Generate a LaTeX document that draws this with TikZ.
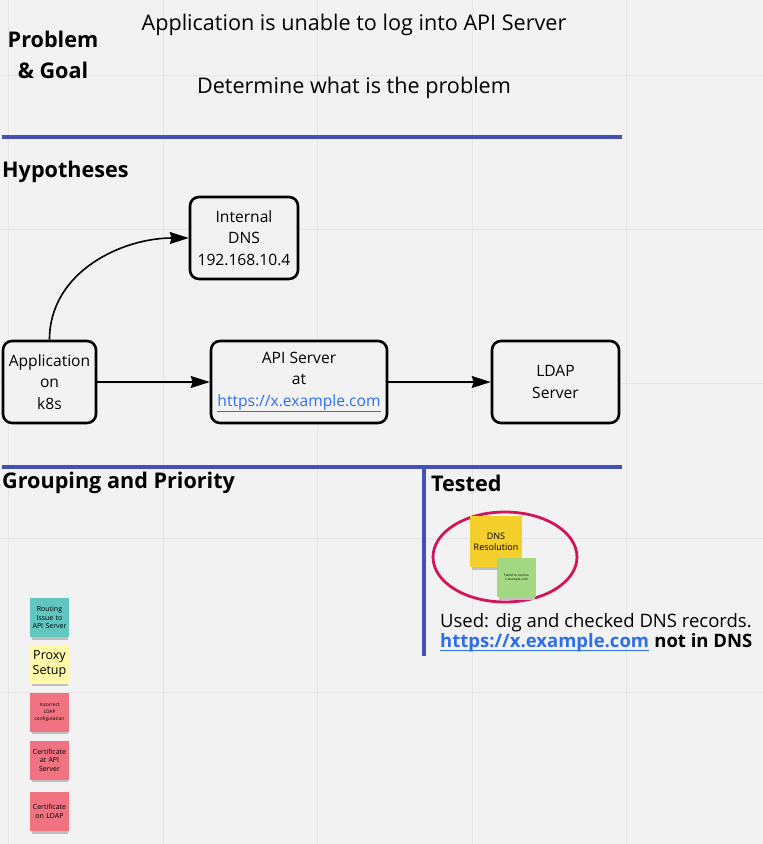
\documentclass[tikz,border=0pt]{standalone}
\usepackage{fontspec}
\setmainfont{Open Sans}
\usetikzlibrary{arrows.meta,shapes.geometric}
\definecolor{bg}{HTML}{F2F2F2}
\definecolor{gridc}{HTML}{E6E6E6}
\definecolor{barblue}{HTML}{4350B8}
\definecolor{linkblue}{HTML}{2F6EEB}
\definecolor{ellc}{HTML}{D4145A}
\definecolor{stYellow}{HTML}{F5D02C}
\definecolor{stGreen}{HTML}{A3D882}
\definecolor{stTeal}{HTML}{62C6C0}
\definecolor{stLight}{HTML}{FFF9AA}
\definecolor{stPink}{HTML}{F17381}
\tikzset{
  box/.style={draw=black,line width=2.6pt,rounded corners=9pt,fill=bg,align=center,font=\fontsize{15.6}{21.5}\selectfont,inner sep=0pt},
  arr/.style={line width=1.6pt,-{Stealth[length=19pt,width=12pt,inset=2pt]}},
  bar/.style={line width=3.5pt,draw=barblue},
  hdr/.style={font=\bfseries\fontsize{21.6}{26}\selectfont,anchor=west,inner sep=0pt},
  sticky/.style={align=center,inner sep=0pt,text width=37pt,minimum width=39pt,minimum height=39pt,font=\fontsize{7}{8.6}\selectfont},
  shadowc/.style={fill=black!25}
}
\begin{document}
\begin{tikzpicture}[x=1pt,y=-1pt]
\fill[bg] (0,0) rectangle (763,844);
\useasboundingbox (0,0) rectangle (763,844);
% grid
\foreach \gx in {8,163,317,472,626} \draw[gridc,line width=0.8pt] (\gx,0) -- (\gx,844);
\foreach \gy in {75,229,383,538,692} \draw[gridc,line width=0.8pt] (0,\gy) -- (763,\gy);
% Problem & Goal
\node[align=center,font=\bfseries\fontsize{21.6}{31}\selectfont,inner sep=0pt] (pg) at (53,55) {Problem\\\& Goal};
\node[font=\fontsize{21.6}{26}\selectfont,inner sep=0pt] (prob) at (354,25) {Application is unable to log into API Server};
\node[font=\fontsize{21.6}{26}\selectfont,inner sep=0pt] (goal) at (354,88) {Determine what is the problem};
\coordinate (b1l) at (2,137); \coordinate (b1r) at (622,137);
\draw[bar] (b1l) -- (b1r);
\node[hdr] (hyp) at (2,171.5) {Hypotheses};
% boxes
\node[box,minimum width=108pt,minimum height=82pt] (dns) at (244,238) {Internal\\DNS\\192.168.10.4};
\node[box,minimum width=93pt,minimum height=82pt] (app) at (49.5,382) {Application\\on\\k8s};
\node[box,minimum width=176pt,minimum height=82pt] (api) at (299,382) {API Server\\at\\\textcolor{linkblue}{\underline{https://x.example.com}}};
\node[box,minimum width=127pt,minimum height=82pt] (ldap) at (555.5,382) {LDAP\\Server};
\draw[arr] (app.east) -- (api.west);
\draw[arr] (api.east) -- (ldap.west);
\draw[arr] (app.north) to[out=90,in=180] (dns.west);
% second bar
\coordinate (b2l) at (2,467); \coordinate (b2r) at (622,467);
\coordinate (vt) at (424,465.5); \coordinate (vb) at (424,656);
\draw[bar] (b2l) -- (b2r);
\draw[bar] (vt) -- (vb);
\node[hdr] (grp) at (2,483) {Grouping and Priority};
\node[hdr] (tst) at (431,483) {Tested};
% tested
\node[draw=ellc,line width=2.8pt,ellipse,minimum width=144pt,minimum height=90pt,inner sep=0pt] (ell) at (505,557) {};
\fill[shadowc] (472,560) rectangle (521,570);
\node[sticky,fill=stYellow,minimum width=52pt,minimum height=51pt,text width=50pt,font=\fontsize{9}{11}\selectfont] (dnsres) at (496,541.5) {DNS\\Resolution};
\fill[shadowc] (499,591) rectangle (535,600);
\node[sticky,fill=stGreen,font=\fontsize{3.2}{4.5}\selectfont] (fail) at (516.5,577.5) {Failed to resolve\\x.example.com};
\node[anchor=base west,font=\fontsize{18.5}{22}\selectfont,inner sep=0pt] (used) at (440,627) {Used: dig and checked DNS records.};
\node[anchor=base west,font=\bfseries\fontsize{18.5}{22}\selectfont,inner sep=0pt,text=linkblue] (link) at (440,647) {https://x.example.com};
\draw[linkblue,line width=1.3pt] ([yshift=-3.5pt]link.base west) -- ([yshift=-3.5pt]link.base east);
\node[anchor=base west,font=\bfseries\fontsize{18.5}{22}\selectfont,inner sep=0pt] (notin) at (link.base east) {\ not in DNS};
% left stickies
\foreach \yy in {617.5,664,712,760,811.5} \fill[shadowc] (32,\yy+14) rectangle (68,\yy+22);
\node[sticky,fill=stTeal] (s1) at (49.5,617.5) {Routing\\Issue to\\API Server};
\node[sticky,fill=stLight,font=\fontsize{12.5}{15.5}\selectfont] (s2) at (49.5,664) {Proxy\\Setup};
\node[sticky,fill=stPink,font=\fontsize{4.8}{7}\selectfont] (s3) at (49.5,712) {Incorrect\\LDAP\\configuration};
\node[sticky,fill=stPink] (s4) at (49.5,760) {Certificate\\at API\\Server};
\node[sticky,fill=stPink] (s5) at (49.5,811.5) {Certificate\\on LDAP};
\end{tikzpicture}
\end{document}
